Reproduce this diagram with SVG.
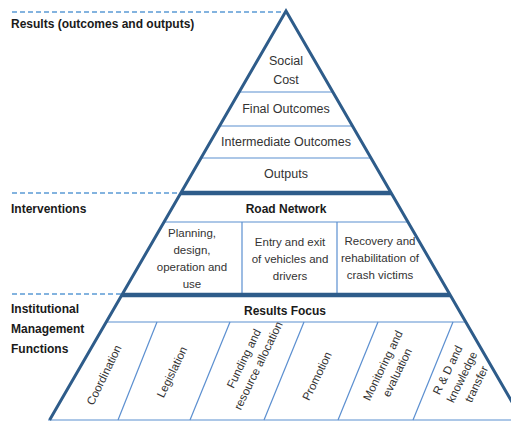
<svg xmlns="http://www.w3.org/2000/svg" width="511" height="421" viewBox="0 0 511 421">
<style>
.dash{stroke:#5B9BD5;stroke-width:1.3;stroke-dasharray:5 3;fill:none}
.thin{stroke:#5B8FD0;stroke-width:1.2;fill:none}
.thick{stroke:#2E5C8A;stroke-width:4.5;fill:none}
.edge{stroke:#2E5C8A;stroke-width:3;fill:none;stroke-linejoin:miter}
.lbl{font-family:"Liberation Sans",Arial,sans-serif;font-size:12px;font-weight:bold;fill:#1a1a1a}
.t{font-family:"Liberation Sans",Arial,sans-serif;font-size:12.5px;fill:#333;text-anchor:middle}
.s{font-family:"Liberation Sans",Arial,sans-serif;font-size:11.5px;fill:#333;text-anchor:middle}
.b{font-family:"Liberation Sans",Arial,sans-serif;font-size:12px;font-weight:bold;fill:#1a1a1a;text-anchor:middle}
</style>
<rect width="511" height="421" fill="#fff"/>
<g id="connectors">
<line class="dash" x1="12" y1="12" x2="283" y2="12"/>
<line class="dash" x1="12" y1="193" x2="181" y2="193"/>
<line class="dash" x1="12" y1="294" x2="122" y2="294"/>
<line class="thin" x1="239" y1="92" x2="333" y2="92"/>
<line class="thin" x1="219" y1="126" x2="353" y2="126"/>
<line class="thin" x1="201" y1="158" x2="371" y2="158"/>
<line class="thin" x1="164" y1="222" x2="408" y2="222"/>
<line class="thin" x1="242" y1="222" x2="242" y2="293"/>
<line class="thin" x1="337" y1="222" x2="337" y2="293"/>
<line class="thin" x1="106" y1="322" x2="466" y2="322"/>
<line class="thin" x1="157" y1="322" x2="118" y2="420"/>
<line class="thin" x1="230" y1="322" x2="190" y2="420"/>
<line class="thin" x1="304" y1="322" x2="264" y2="420"/>
<line class="thin" x1="378" y1="322" x2="338" y2="420"/>
<line class="thin" x1="453" y1="322" x2="413" y2="420"/>
<line class="thin" x1="48" y1="420" x2="511" y2="420"/>
<line class="thick" x1="181" y1="193" x2="391" y2="193"/>
<line class="thick" x1="122" y1="295" x2="450" y2="295"/>
<polyline class="edge" points="49.6,420 286,11 522.4,420"/>
</g>
<g id="labels">
<text class="lbl" x="11" y="28">Results (outcomes and outputs)</text>
<text class="lbl" x="11" y="213">Interventions</text>
<text class="lbl" x="11" y="313">Institutional</text>
<text class="lbl" x="11" y="333">Management</text>
<text class="lbl" x="11" y="353">Functions</text>
</g>
<g id="social-cost"><text class="t" x="286" y="65">Social</text><text class="t" x="286" y="84">Cost</text></g>
<g id="final-outcomes"><text class="t" x="286" y="113">Final Outcomes</text></g>
<g id="intermediate-outcomes"><text class="t" x="286" y="146">Intermediate Outcomes</text></g>
<g id="outputs"><text class="t" x="286" y="178">Outputs</text></g>
<g id="road-network"><text class="b" x="286" y="213">Road Network</text></g>
<g id="planning"><text class="s" x="192" y="237">Planning,</text><text class="s" x="192" y="254">design,</text><text class="s" x="192" y="271">operation and</text><text class="s" x="192" y="288">use</text></g>
<g id="entry-exit"><text class="s" x="290" y="246">Entry and exit</text><text class="s" x="290" y="263">of vehicles and</text><text class="s" x="290" y="280">drivers</text></g>
<g id="recovery"><text class="s" x="380" y="245">Recovery and</text><text class="s" x="380" y="262">rehabilitation of</text><text class="s" x="380" y="279">crash victims</text></g>
<g id="results-focus"><text class="b" x="285" y="315">Results Focus</text></g>
<g id="coordination"><text class="s" transform="translate(104,375) rotate(-64)"><tspan x="0" dy="4">Coordination</tspan></text></g>
<g id="legislation"><text class="s" transform="translate(172,372) rotate(-64)"><tspan x="0" dy="4">Legislation</tspan></text></g>
<g id="funding"><text class="s" transform="translate(251,362) rotate(-64)"><tspan x="0" dy="-4">Funding and</tspan><tspan x="0" dy="16">resource allocation</tspan></text></g>
<g id="promotion"><text class="s" transform="translate(317,376) rotate(-64)"><tspan x="0" dy="4">Promotion</tspan></text></g>
<g id="monitoring"><text class="s" transform="translate(390,369) rotate(-64)"><tspan x="0" dy="-4">Monitoring and</tspan><tspan x="0" dy="16">evaluation</tspan></text></g>
<g id="rd"><text class="s" transform="translate(462,377) rotate(-64)"><tspan x="0" dy="-12">R &amp; D and</tspan><tspan x="0" dy="16">knowledge</tspan><tspan x="0" dy="16">transfer</tspan></text></g>
</svg>
